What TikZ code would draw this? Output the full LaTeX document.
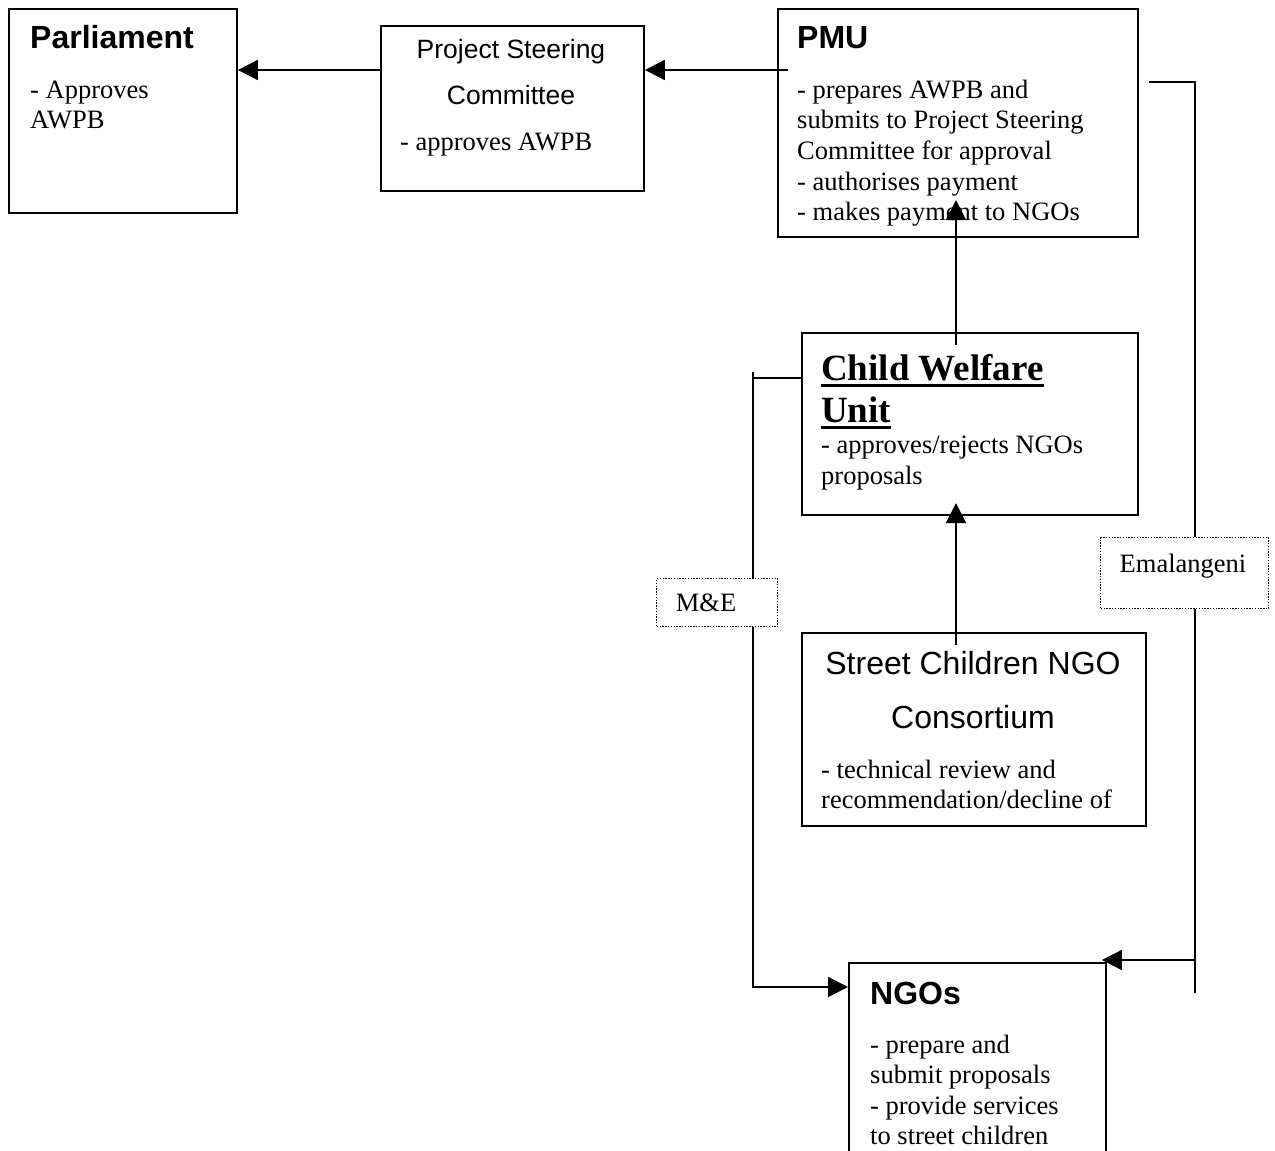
\documentclass[tikz,border=0pt]{standalone}
\usepackage{fontspec}
\setmainfont{Liberation Serif}
\setsansfont{Liberation Sans}
\usetikzlibrary{arrows.meta}
\begin{document}
\begin{tikzpicture}[x=1pt,y=-1pt,
  box/.style={draw, line width=1.9pt, inner sep=0pt, anchor=north west},
  dotbox/.style={draw, line width=1.4pt, dash pattern=on 1.4pt off 1.4pt, inner sep=0pt, anchor=north west},
  conn/.style={line width=1.9pt},
  arr/.style={conn, -{Triangle[length=20pt,width=20pt]}},
  body/.style={anchor=base west, inner sep=0pt, font=\fontsize{26.5}{30.5}\selectfont},
  head/.style={anchor=base west, inner sep=0pt, font=\fontsize{32}{36}\selectfont\sffamily\bfseries},
  sans/.style={anchor=base, inner sep=0pt, font=\fontsize{26.5}{30.5}\selectfont\sffamily},
  sansbig/.style={anchor=base, inner sep=0pt, font=\fontsize{32}{36}\selectfont\sffamily},
  cwuhead/.style={anchor=base west, inner sep=0pt, font=\fontsize{37}{43}\selectfont\bfseries},
  uline/.style={line width=3pt}
]
\useasboundingbox (0,0) rectangle (1275,1151);

% boxes
\node[box, minimum width=228pt, minimum height=204pt] (parl) at (8,8) {};
\node[box, minimum width=263pt, minimum height=165pt] (psc) at (380,25) {};
\node[box, minimum width=360pt, minimum height=228pt] (pmu) at (777,8) {};
\node[box, minimum width=336pt, minimum height=182pt] (cwu) at (801,332) {};
\node[box, minimum width=344pt, minimum height=193pt] (scnc) at (801,632) {};
\node[box, minimum width=257pt, minimum height=215pt] (ngo) at (848,962) {};
\node[dotbox, minimum width=168pt, minimum height=71pt] (ema) at (1100,537) {};
\node[dotbox, minimum width=121pt, minimum height=48pt] (me) at (656,578) {};

% texts
\node[head] (t1) at (30,48) {Parliament};
\node[body] (t2) at (30,98) {- Approves};
\node[body] (t3) at (30,128) {AWPB};

\node[sans] (t4) at (511,58) {Project Steering};
\node[sans] (t5) at (511,104) {Committee};
\node[body] (t6) at (400,150) {- approves AWPB};

\node[head] (t7) at (797,48) {PMU};
\node[body] (t8) at (797,98) {- prepares AWPB and};
\node[body] (t9) at (797,128) {submits to Project Steering};
\node[body] (t10) at (797,159) {Committee for approval};
\node[body] (t11) at (797,190) {- authorises payment};
\node[body] (t12) at (797,220) {- makes payment to NGOs};

\node[cwuhead] (t13) at (821,380) {Child Welfare};
\node[cwuhead] (t14) at (821,422) {Unit};
\draw[uline] ([yshift=-5pt]t13.base west) -- ([yshift=-5pt]t13.base east);
\draw[uline] ([yshift=-5pt]t14.base west) -- ([yshift=-5pt]t14.base east);
\node[body] (t15) at (821,453) {- approves/rejects NGOs};
\node[body] (t16) at (821,484) {proposals};

\node[sansbig] (t17) at (973,674) {Street Children NGO};
\node[sansbig] (t18) at (973,728) {Consortium};
\node[body] (t19) at (821,778) {- technical review and};
\node[body] (t20) at (821,808) {recommendation/decline of};

\node[head] (t21) at (870,1004) {NGOs};
\node[body] (t22) at (870,1053) {- prepare and};
\node[body] (t23) at (870,1083) {submit proposals};
\node[body] (t24) at (870,1114) {- provide services};
\node[body] (t25) at (870,1144) {to street children};

\node[body, anchor=base] (t26) at (1183,572) {Emalangeni};
\node[body, anchor=base] (t27) at (706,611) {M\&E};

% helper coordinates
\coordinate (y70) at (0,70);
\coordinate (pmuR) at (1149,82);
\coordinate (rc) at (1195,82);
\coordinate (rbot) at (1195,993);
\coordinate (yema) at (0,960);
\coordinate (pmuIn) at (956,200);
\coordinate (cwuIn) at (956,345);
\coordinate (cwuTip) at (956,503);
\coordinate (scncIn) at (956,645);
\coordinate (lc) at (753,378);
\coordinate (ltop) at (753,372);
\coordinate (lbot) at (753,987);

% connectors
\draw[arr] ([xshift=11pt]pmu.west |- y70) -- (psc.east |- y70);
\draw[arr] (psc.west |- y70) -- (parl.east |- y70);
\draw[arr] (cwuIn) -- (pmuIn);
\draw[arr] (scncIn) -- (cwuTip);

\draw[conn] (cwu.west |- lc) -- (lc);
\draw[conn] (ltop) -- (me.north -| lc);
\draw[arr] (me.south -| lc) -- (lbot) -- (ngo.west |- lbot);

\draw[conn] (pmuR) -- (rc) -- (ema.north -| rc);
\draw[conn] (ema.south -| rc) -- (rbot);
\draw[arr] (rc |- yema) -- ([xshift=-5pt]ngo.north east |- yema);
\end{tikzpicture}
\end{document}
